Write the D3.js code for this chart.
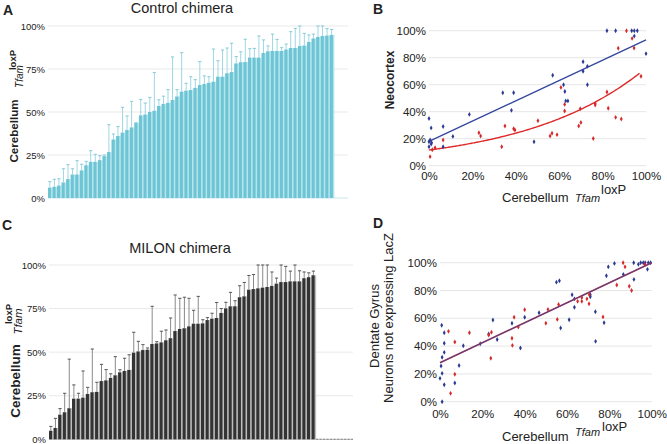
<!DOCTYPE html>
<html><head><meta charset="utf-8">
<script src="https://cdn.jsdelivr.net/npm/d3@7/dist/d3.min.js"></script>
<style>
body{margin:0;background:#fff}
text{font-family:"Liberation Sans",Arial,Helvetica,sans-serif;fill:#222}
</style>
</head><body>
<svg id="chart" width="667" height="444"></svg>
<script>
// ---------- DATA ----------
const barTicks = [0, 25, 50, 75, 100];
const scatterTicks = [0, 20, 40, 60, 80, 100];
const nCategories = 66;

// Panel A: Control chimera (sorted per-animal cerebellum Tfam loxP %)
const controlValues = [6,6.5,7.2,9,11,13.6,13.6,16,19,21,21,22,24.3,26.7,34,36,38,39.5,41,43.5,
  48,48.5,50,50.7,53.5,54.7,55.3,57,59,61.8,62.4,62.8,64,65.7,66.3,67,67.6,70.5,70.5,72.5,
  73.2,78.2,78.9,79,81.6,81.6,81.6,84.3,85.3,85.5,85.5,85.5,86.3,87.2,87.2,88.4,88.6,90.7,92.7,93.6,
  94.2,94.4,94.8];
const controlErrTop = [9.5,10.9,11.2,17,19.4,17,21.7,19.6,21.3,27.5,25.4,24.6,25,42.6,37.2,41.5,52.7,47.7,56.2,43.8,
  57.3,55.2,58.5,73,57.1,59.2,63,82,63,84.5,66.7,70.5,68.8,79.3,71,70.5,86.6,79.8,86,87.2,
  90,82.2,85,92.3,86.8,87,94.2,91.9,88.4,95.3,92.2,87.4,89.5,96.7,98.6,100,95.7,94.8,95.3,100,
  100,98.5,98];

// Panel C: MILON chimera
const milonValues = [4.9,6.5,14.1,15.5,17.8,23.3,23.3,23.9,26,27,27.2,33.4,33.8,35.2,36.7,38.4,39.2,39.8,49.7,50.4,
  51.2,51.4,54.7,55,55.6,56.8,58,62.1,63.3,63.7,64.8,66.3,66.3,66.5,68.4,69.2,69.6,72.5,75.1,76.3,
  76.3,81.5,82,85.8,86.2,86.6,87,87.4,88,89.3,90.2,90.2,90.6,90.6,90.6,92.4,93,94.1];
const milonErrTop = [7.4,12,17.6,26.4,46,31.2,26.4,39.2,29.8,51.8,32.7,43,40,37.6,47.4,39.9,46.5,48.5,61.4,56.2,
  54.3,52.4,76.3,56,62,62.7,69.6,82.8,80.9,81.5,80.9,74,82,68.6,69.8,72.3,78.5,75,78.6,84.3,
  79.5,88.1,90,94,94.5,100,100,100,96,92.5,100,99.2,96.5,100,96.7,96,95.5,96.5];

// Panel B: Neocortex vs cerebellum (x %, y %)
const neoBlueX = [0,1,6.5,0,0,0.5,1,1.2,11,6.5,18.6,34,39,38,48.4,57,62,62.6,63,64,71,71,73,73,82,86,93.4,94.6,96,94.6,100];
const neoBlueY = [35,28,29,14,17.8,19,16,17,21.7,14,38,54,54,41,17.8,67,60,55,48,48,77,70,73.6,60,100,100,100,100,100,96,83];
const neoRedX = [0.5,1.5,2.8,6.5,23,23.8,33.5,35,39,39.6,50.2,55.8,56.7,59,60.8,62.5,62.5,69,70,69.7,75.7,76.6,76.6,82,82.6,86,88.6,87.2,91,93.6,94.5,97.7];
const neoRedY = [6.7,11.8,13.3,19,24.4,22,14,29.4,27.4,26.4,33.3,22,24,23,58,45.4,40.5,29.4,32,42.2,20.2,46,45,54.6,42.5,35.8,34.6,87,100,94.3,87.2,66.2];
const neoBlueTrend = {intercept: 18, slope: 0.752, xMin: 0, xMax: 100};
const neoRedTrend = {a: 11.6, b: 0.0183, xMin: 0, xMax: 97};

// Panel D: Dentate gyrus neurons not expressing LacZ vs cerebellum
const dgBlueX = [0.8,1,0.5,0,1,2,2,2,2,1,7,9,11,19,23,25,27,34,38,40,46.8,55,56.4,57,61,62.4,63.5,63.5,71,71,73.4,73.5,77.5,78.6,79.5,82.4,86.6,91.5,91.6,93.7,94.8,96,96.9,98,99.5,98.4];
const dgBlueY = [55,32,25.7,16.8,20.4,49.6,42,35.5,12.2,0,13.4,26,40.3,41.7,48.7,58.8,44.8,56.4,38.6,60.7,64,86,87,53,59,77,68,74,77,75.5,64.7,43.4,56.8,90.6,97,99.5,91.6,100,88,98.8,100,100,100,95.2,100,100];
const dgRedX = [4,5,7,7,13.9,23,24.3,24,34,34.2,35,37,40,50,51,55.4,56,65,67,67,69.4,70.4,70.5,77,83.5,86.5,87.4,89.4,90.5,96.7];
const dgRedY = [50.6,6,43,19.7,49.6,48,50,31.2,45.6,40.5,60.7,53.7,66.2,56.4,66.4,59.2,70,72.2,75,72.2,74,70.5,77,61,84,100,97,83,80,98.8];
const dgTrend = {intercept: 28, slope: 0.72, xMin: 0, xMax: 100};

// ---------- DRAW ----------
const svg = d3.select("#chart");
const FONT = '"Liberation Sans",Arial,Helvetica,sans-serif';

function label(t, x, y, size, weight, opts = {}) {
  const el = svg.append("text").attr("x", x).attr("y", y)
    .style("font-size", size + "px").style("font-weight", weight || "normal")
    .text(t);
  if (opts.italic) el.style("font-style", "italic");
  if (opts.anchor) el.attr("text-anchor", opts.anchor);
  if (opts.rotate) el.attr("transform", `rotate(-90,${x},${y})`);
  return el;
}

function barPanel(cfg) {
  const g = svg.append("g");
  const x = d3.scaleBand().domain(d3.range(nCategories)).range([cfg.x0, cfg.x1]).padding(0);
  const y = d3.scaleLinear().domain([0, 100]).range([cfg.y0, cfg.y1]);
  g.selectAll(".grid").data(barTicks.filter(t => t > 0)).join("line")
    .attr("x1", cfg.x0).attr("x2", cfg.x1)
    .attr("y1", d => y(d)).attr("y2", d => y(d))
    .attr("stroke", "#e9e9e9").attr("stroke-width", 1);
  g.append("line").attr("x1", cfg.x0).attr("x2", cfg.x1)
    .attr("y1", y(0)).attr("y2", y(0)).attr("stroke", cfg.base).attr("stroke-width", 1);
  const ax = g.append("g").attr("transform", `translate(${cfg.x0},0)`)
    .call(d3.axisLeft(y).tickValues(barTicks).tickFormat(d => d + "%").tickSize(0).tickPadding(3));
  ax.select(".domain").remove();
  ax.selectAll("text").style("font-size", "9.5px").style("font-family", FONT).attr("fill", "#222");

  const bw = x.bandwidth();
  const bars = g.selectAll(".bar").data(cfg.values).join("g");
  bars.append("rect").attr("x", (d, i) => x(i)).attr("width", bw)
    .attr("y", d => y(d)).attr("height", d => y(0) - y(d)).attr("fill", cfg.light);
  bars.append("rect").attr("x", (d, i) => x(i)).attr("width", bw * 0.67)
    .attr("y", d => y(d)).attr("height", d => y(0) - y(d)).attr("fill", cfg.dark);
  const cx = i => x(i) + bw * 0.4;
  g.selectAll(".err").data(cfg.err).join("line")
    .attr("x1", (d, i) => cx(i)).attr("x2", (d, i) => cx(i))
    .attr("y1", (d, i) => y(cfg.values[i])).attr("y2", d => y(d))
    .attr("stroke", cfg.errColor).attr("stroke-width", 1);
  g.selectAll(".cap").data(cfg.err).join("line")
    .attr("x1", (d, i) => cx(i) - 1.6).attr("x2", (d, i) => cx(i) + 1.6)
    .attr("y1", d => y(d)).attr("y2", d => y(d))
    .attr("stroke", cfg.capColor).attr("stroke-width", 1);
  if (cfg.dashEmpty) {
    g.append("line").attr("x1", x(cfg.values.length)).attr("x2", cfg.x1)
      .attr("y1", y(0)).attr("y2", y(0)).attr("stroke", "#888")
      .attr("stroke-width", 1).attr("stroke-dasharray", "2,1.5");
  }
  return {x, y};
}

function scatterPanel(cfg) {
  const g = svg.append("g");
  const x = d3.scaleLinear().domain([0, 100]).range([cfg.x0, cfg.x1]);
  const y = d3.scaleLinear().domain([0, 100]).range([cfg.y0, cfg.y1]);
  g.selectAll(".grid").data(scatterTicks).join("line")
    .attr("x1", cfg.x0).attr("x2", cfg.x1)
    .attr("y1", d => y(d)).attr("y2", d => y(d))
    .attr("stroke", "#e6e6e6").attr("stroke-width", 1);
  const ay = g.append("g").attr("transform", `translate(${cfg.x0},0)`)
    .call(d3.axisLeft(y).tickValues(scatterTicks).tickFormat(d => d + "%").tickSize(0).tickPadding(3));
  ay.select(".domain").remove();
  ay.selectAll("text").style("font-size", "11.5px").style("font-family", FONT).attr("fill", "#222");
  const axx = g.append("g").attr("transform", `translate(0,${cfg.y0})`)
    .call(d3.axisBottom(x).tickValues(scatterTicks).tickFormat(d => d + "%").tickSize(0).tickPadding(cfg.xPad));
  axx.select(".domain").remove();
  axx.selectAll("text").style("font-size", "11.5px").style("font-family", FONT).attr("fill", "#222");
  return {g, x, y};
}

function points(p, xs, ys, color) {
  const sym = d3.symbol().type(d3.symbolDiamond).size(7);
  p.g.selectAll(null).data(xs).join("path")
    .attr("d", sym)
    .attr("transform", (d, i) => `translate(${p.x(d)},${p.y(ys[i])})`)
    .attr("fill", color);
}

// Panel A
barPanel({values: controlValues, err: controlErrTop, x0: 48, x1: 348, y0: 198, y1: 26,
  dark: "#6cc4d4", light: "#b4e4ec", errColor: "#9fd7e3", capColor: "#86cbd8", base: "#c6e6ed"});
// Panel C
barPanel({values: milonValues, err: milonErrTop, x0: 49, x1: 353, y0: 439.3, y1: 265,
  dark: "#333333", light: "#bdbdbd", errColor: "#8a8a8a", capColor: "#555", base: "#bbb", dashEmpty: true});

// Panel B
const pB = scatterPanel({x0: 429, x1: 646, y0: 165.7, y1: 30.7, xPad: 6});
const lineGen = d3.line().x(d => pB.x(d[0])).y(d => pB.y(d[1]));
pB.g.append("path").attr("d", lineGen([[neoBlueTrend.xMin, neoBlueTrend.intercept + neoBlueTrend.slope * neoBlueTrend.xMin],
  [neoBlueTrend.xMax, neoBlueTrend.intercept + neoBlueTrend.slope * neoBlueTrend.xMax]]))
  .attr("stroke", "#34479c").attr("stroke-width", 1.4).attr("fill", "none");
const redCurve = d3.range(neoRedTrend.xMin, neoRedTrend.xMax + 0.5, 1).map(v => [v, neoRedTrend.a * Math.exp(neoRedTrend.b * v)]);
pB.g.append("path").attr("d", d3.line().x(d => pB.x(d[0])).y(d => pB.y(d[1])).curve(d3.curveMonotoneX)(redCurve))
  .attr("stroke", "#dd2a2a").attr("stroke-width", 1.4).attr("fill", "none");
points(pB, neoBlueX, neoBlueY, "#2b3a92");
points(pB, neoRedX, neoRedY, "#d62b2b");

// Panel D
const pD = scatterPanel({x0: 440, x1: 651.7, y0: 401.7, y1: 262.7, xPad: 8});
points(pD, dgBlueX, dgBlueY, "#2b3a92");
points(pD, dgRedX, dgRedY, "#d62b2b");
const dLine = d3.line().x(d => pD.x(d[0])).y(d => pD.y(d[1]));
pD.g.append("path").attr("d", dLine([[dgTrend.xMin, dgTrend.intercept + dgTrend.slope * dgTrend.xMin],
  [dgTrend.xMax, dgTrend.intercept + dgTrend.slope * dgTrend.xMax]]))
  .attr("stroke", "#d33a3a").attr("stroke-width", 1.6).attr("fill", "none");
pD.g.append("path").attr("d", dLine([[dgTrend.xMin, dgTrend.intercept + dgTrend.slope * dgTrend.xMin],
  [dgTrend.xMax, dgTrend.intercept + dgTrend.slope * dgTrend.xMax]]))
  .attr("stroke", "#3a3f9a").attr("stroke-width", 1.2).attr("fill", "none").attr("opacity", 0.8);

// ---------- TEXT ----------
label("A", 3, 15, 14, "bold");
label("B", 373, 14, 14, "bold");
label("C", 2, 230, 14, "bold");
label("D", 373, 228, 14, "bold");
label("Control chimera", 182, 13, 14.5, "normal", {anchor: "middle"});
label("MILON chimera", 180, 253, 14.5, "normal", {anchor: "middle"});

// A y-title
label("Cerebellum", 18, 131, 11.6, "bold", {anchor: "middle", rotate: true});
label("Tfam", 22.5, 76.5, 10, "normal", {anchor: "middle", rotate: true, italic: true});
label("loxP", 15.5, 60, 9.5, "bold", {anchor: "middle", rotate: true});
// C y-title
label("Cerebellum", 20, 381, 13.5, "bold", {anchor: "middle", rotate: true});
label("Tfam", 22, 321.5, 11.5, "normal", {anchor: "middle", rotate: true, italic: true});
label("loxP", 12, 314, 9.5, "bold", {anchor: "middle", rotate: true});

// B titles
label("Neocortex", 394, 80, 12, "bold", {anchor: "middle", rotate: true});
label("Cerebellum", 502, 202, 13);
label("Tfam", 575, 202, 11, "normal", {italic: true});
label("loxP", 601, 193.5, 13);

// D titles
label("Dentate Gyrus", 379, 326, 13, "normal", {anchor: "middle", rotate: true});
label("Neurons not expressing LacZ", 393, 318, 13, "normal", {anchor: "middle", rotate: true});
label("Cerebellum", 502, 441, 13);
label("Tfam", 575, 436, 11, "normal", {italic: true});
label("loxP", 602, 431, 13);
</script>
</body></html>
